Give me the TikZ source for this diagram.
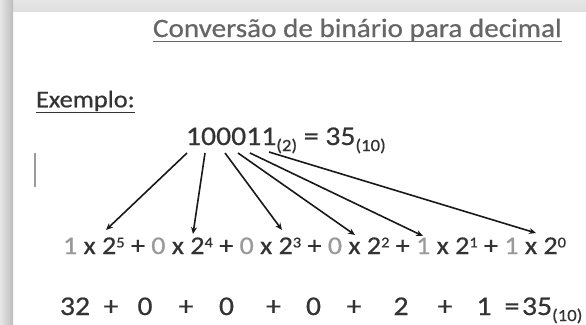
\documentclass[tikz,border=0pt]{standalone}
\usepackage{fontspec}
\setmainfont{Carlito}[FakeStretch=1.1, FakeBold=0.6]
\usetikzlibrary{arrows.meta}
\definecolor{txt}{HTML}{333333}
\definecolor{lgr}{HTML}{9A9A9A}
\definecolor{ttl}{HTML}{666666}
\definecolor{shA}{HTML}{E6E6E6}
\definecolor{shB}{HTML}{BDBDBD}
\newcommand\myfs[1]{\fontsize{#1}{#1}\selectfont}
\newcommand\mysup[1]{\raisebox{6.6pt}{\myfs{15}#1}}
\newcommand\mysub[1]{\raisebox{-6pt}{\myfs{17}#1}}
\newcommand\gr[1]{\textcolor{lgr}{#1}}
\tikzset{
  txtnode/.style={anchor=base west, inner sep=0pt, outer sep=0pt, text=txt},
  tok/.style={anchor=base, inner sep=0pt, outer sep=0pt, text=txt, font=\myfs{27}},
  arr/.style={line width=1.6pt, draw=black!90, -{Stealth[length=7pt,width=6pt]}},
  uline/.style={line width=1.5pt}
}
\begin{document}
\begin{tikzpicture}[x={(1pt,0)}, y={(0,-1pt)}]
\useasboundingbox (0,0) rectangle (586,324);
\fill[white] (0,0) rectangle (586,324);
\shade[top color=shA, bottom color=shA!80!shB] (0,0) rectangle (586,11.5);
\shade[left color=shA, right color=shB] (0,0) rectangle (13,324);
% title
\node[txtnode, text=ttl, font=\myfs{26.5}] (title) at (153,37) {Conversão de binário para decimal};
\draw[uline, ttl] ([yshift=-4.5pt]title.base west) -- ([yshift=-4.5pt]title.base east);
% exemplo
\node[txtnode, font=\myfs{24}] (ex) at (36,107.3) {Exemplo:};
\draw[uline, txt, line width=1.2pt] ([yshift=-5pt]ex.base west) -- ([yshift=-5pt]ex.base east);
% cursor
\coordinate (cA) at (35,153);
\coordinate (cB) at (35,187);
\draw[lgr, line width=1.2pt] (cA) -- (cB);
% binary
\node[txtnode, font=\myfs{27}] (bin) at (186,145) {100011\mysub{(2)} = 35\mysub{(10)}};
% row 2
\node[txtnode, font=\myfs{25.5}] (row2) at (63,254) {\gr{1} x 2\mysup{5} + \gr{0} x 2\mysup{4} + \gr{0} x 2\mysup{3} + \gr{0} x 2\mysup{2} + \gr{1} x 2\mysup{1} + \gr{1} x 2\mysup{0}};
% row 3
\foreach \xx/\tt [count=\i] in {75/32, 111/+, 145/0, 186/+, 226.5/0, 273.5/+, 313.5/0, 354/+, 401/2, 445/+, 484/1, 512/=}
  \node[tok] (r\i) at (\xx,315) {\tt};
\node[txtnode, font=\myfs{27}] (res) at (522,315) {35\mysub{(10)}};
% arrows
\coordinate (s1) at (187,153); \coordinate (t1) at (106,230);
\coordinate (s2) at (205,153); \coordinate (t2) at (193,234);
\coordinate (s3) at (225,153); \coordinate (t3) at (282,230);
\coordinate (s4) at (238,153); \coordinate (t4) at (355,235);
\coordinate (s5) at (250,153); \coordinate (t5) at (423,236);
\coordinate (s6) at (269,152); \coordinate (t6) at (536,233);
\foreach \i in {1,...,6} \draw[arr] (s\i) -- (t\i);
\end{tikzpicture}
\end{document}
